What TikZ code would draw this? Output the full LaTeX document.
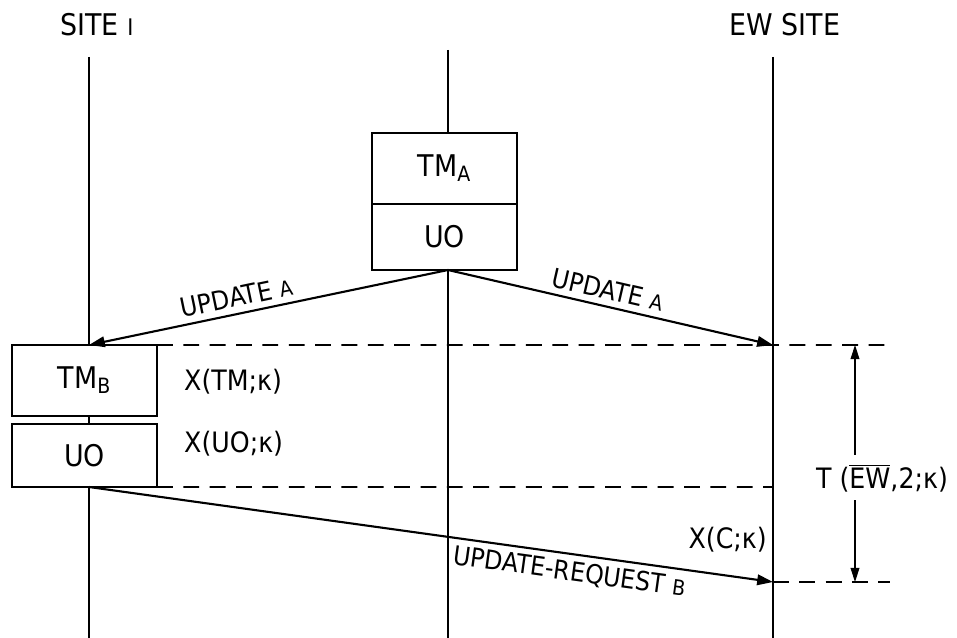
\documentclass[tikz,border=0pt]{standalone}
\usepackage{fontspec}
\setmainfont{DejaVu Sans Condensed}
\usetikzlibrary{arrows.meta}
\newcommand{\lblsize}{\fontsize{16}{19}\selectfont}
\newcommand{\boxsize}{\fontsize{17}{20}\selectfont}
\newcommand{\lowchar}[1]{{\fontsize{12}{14}\selectfont #1}}
\begin{document}
\begin{tikzpicture}
  [x=0.02cm,y=-0.02cm,
   tmbox/.style={rectangle,draw=black,fill=white,thick,align=center,
                 outer sep=0,minimum width=2.9cm,minimum height=1.42cm,font=\boxsize},
   uobox/.style={rectangle,draw=black,fill=white,thick,align=center,
                 outer sep=0,minimum width=2.9cm,minimum height=1.3cm,font=\boxsize},
   lifeline/.style={draw=black,line width=0.6pt},
   msg/.style={draw=black,line width=1.2pt,-{Triangle[length=9pt,width=6pt]}},
   timeline/.style={draw=black,dash pattern=on 9pt off 6pt,line width=0.9pt},
   dim/.style={draw=black,line width=0.6pt,-{Triangle[length=8pt,width=5pt]}},
   lbl/.style={font=\lblsize}]
  \useasboundingbox (0,0) rectangle (957,638);
  % life lines
  \node[lbl,font=\fontsize{17}{20}\selectfont] (siteI) at (97,25) {SITE {\fontsize{13}{15}\selectfont I}};
  \node[lbl,font=\fontsize{17}{20}\selectfont] (siteEW) at (785,25) {EW SITE};
  \coordinate (iTop) at (89,57);
  \coordinate (iBot) at (89,638);
  \coordinate (mTop) at (448,50);
  \coordinate (mBot) at (448,638);
  \coordinate (ewTop) at (773,57);
  \coordinate (ewBot) at (773,638);
  \draw[lifeline] (iTop) -- (iBot);
  \draw[lifeline] (mTop) -- (mBot);
  \draw[lifeline] (ewTop) -- (ewBot);
  % boxes
  \node[tmbox] (tmA) at (444.5,168.5) {TM$_{\mbox{\lowchar{A}}}$};
  \node[uobox,minimum height=1.32cm] (uoA) at (444.5,237) {UO};
  \node[tmbox] (tmB) at (84.5,380.5) {TM$_{\mbox{\lowchar{B}}}$};
  \node[uobox,minimum height=1.26cm] (uoB) at (84.5,455.5) {UO};
  \coordinate (aOut) at (448,270);
  \coordinate (iIn) at (89,345);
  \coordinate (ewIn) at (773,345);
  \coordinate (iOut) at (89,487);
  \coordinate (ewReq) at (773,582);
  % time marks
  \coordinate (tTopEnd) at (890,345);
  \coordinate (tMidEnd) at (773,487);
  \coordinate (tBotEnd) at (890,582);
  \draw[timeline] (tmB.north east) -- (tTopEnd);
  \draw[timeline] (uoB.south east) -- (tMidEnd);
  \draw[timeline] (ewReq) -- (tBotEnd);
  % messages
  \draw[msg] (aOut) -- node[lbl,font=\fontsize{15}{18}\selectfont,sloped,above=0pt,pos=0.58] {UPDATE \lowchar{A}} (iIn);
  \draw[msg] (aOut) -- node[lbl,font=\fontsize{15}{18}\selectfont,sloped,above=0pt,pos=0.48] {UPDATE \lowchar{A}} (ewIn);
  \draw[msg] (iOut) -- node[lbl,font=\fontsize{15}{18}\selectfont,sloped,below=0pt,pos=0.706] {UPDATE-REQUEST \lowchar{B}} (ewReq);
  % durations
  \node[lbl,anchor=west] (xTM) at (178,382) {X(TM;κ)};
  \node[lbl,anchor=west] (xUO) at (178,444) {X(UO;κ)};
  \node[lbl,anchor=east] (xC) at (773,540) {X(C;κ)};
  \node[lbl] (tEW) at (882,478) {T ($\overline{\mbox{EW}}$,2;κ)};
  \coordinate (dTop) at (855,345);
  \coordinate (dBot) at (855,582);
  \draw[dim] (855,455) -- (dTop);
  \draw[dim] (855,500) -- (dBot);
\end{tikzpicture}
\end{document}
